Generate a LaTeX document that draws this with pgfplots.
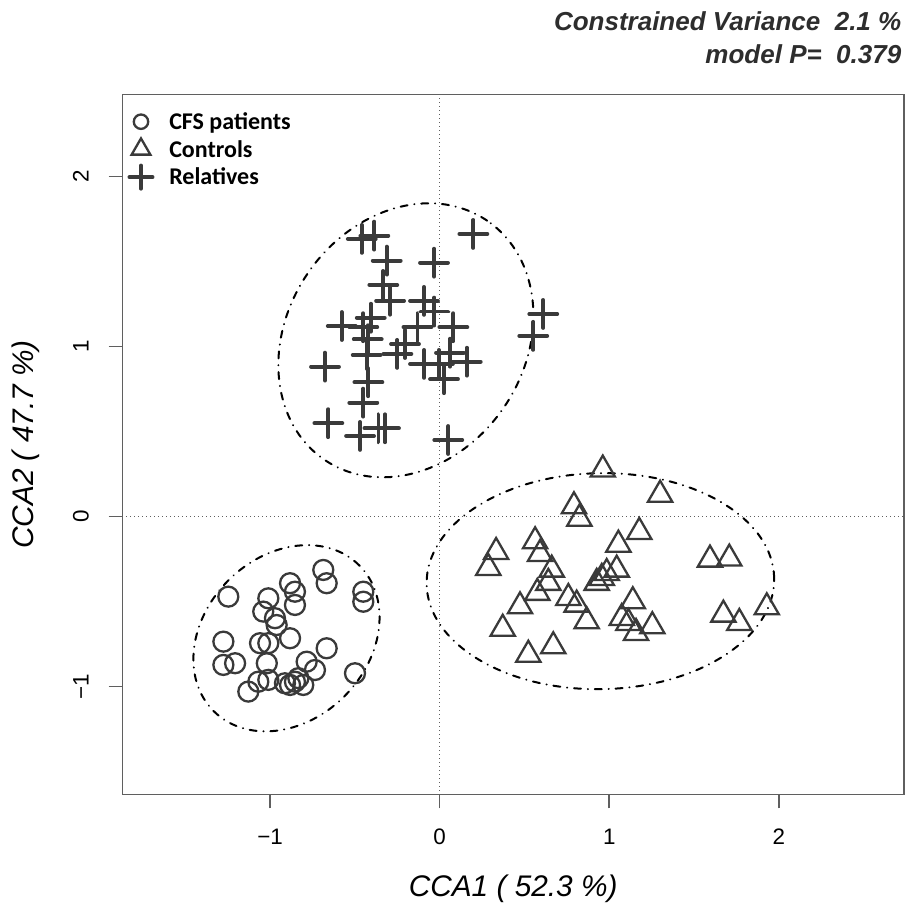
\documentclass[border=0pt]{standalone}
\usepackage{fontspec}
\setmainfont{Liberation Sans}
\newfontfamily\legfont{Carlito}
\usepackage{pgfplots}
\pgfplotsset{compat=1.18}
\definecolor{mk}{RGB}{58,58,58}
\definecolor{ax}{RGB}{95,95,95}
\definecolor{tt}{RGB}{45,45,45}
\tikzset{ell/.style={black, line width=1pt, line cap=round, dash pattern=on 3.5pt off 3.4pt on 0.1pt off 3.4pt}}
\pgfplotsset{myleg/.style={legend image code/.code={\path[draw=none,fill=none] (0pt,-3pt) rectangle (18.7pt,9.5pt); \draw[##1, mark size=#1] plot coordinates {(9.35pt,3.9pt)};}}}
\begin{document}
\begin{tikzpicture}
\begin{axis}[
  scale only axis, width=390.85pt, height=350.2pt,
  xmin=-1.871, xmax=2.738, ymin=-1.638, ymax=2.485,
  axis line style={ax, line width=0.75pt},
  tick pos=left,
  tick align=outside,
  major tick length=6.8pt,
  every tick/.style={ax, line width=0.75pt},
  xtick={-1,0,1,2}, xticklabels={−1,0,1,2},
  ytick={-1,0,1,2}, yticklabels={−1,0,1,2},
  ticklabel style={font=\fontsize{11.2}{13}\selectfont, black, inner sep=0pt},
  xticklabel style={anchor=base, yshift=-18pt},
  yticklabel style={rotate=90, anchor=base, yshift=10pt},
  xlabel={\itshape CCA1 ( 52.3 \%)},
  ylabel={\itshape CCA2 ( 47.7 \%)},
  label style={font=\fontsize{14.9}{17}\selectfont, inner sep=0pt},
  xlabel style={at={([yshift=-51pt]rel axis cs:0.5,0)}, anchor=base},
  ylabel style={at={([xshift=-44.5pt]rel axis cs:0,0.5)}, rotate=0, anchor=base},
  clip=false,
  legend cell align=left,
  legend style={at={([yshift=-8.1pt]rel axis cs:0,1)}, anchor=north west, draw=none, fill=none,
    inner sep=0pt, outer sep=0pt, row sep=1.25pt, column sep=4.8pt,
    font=\legfont\bfseries\fontsize{12}{14}\selectfont,
    nodes={inner sep=0pt, anchor=base west}},
]
\addplot[only marks, mark=o, mark size=5pt, mk, line width=1.15pt, myleg=3.6pt]
coordinates {
(-1.246,-0.472) (-0.686,-0.315) (-0.666,-0.393) (-0.882,-0.393) (-0.853,-0.443)
(-0.853,-0.521) (-1.010,-0.482) (-1.040,-0.560) (-0.971,-0.599) (-0.961,-0.639)
(-0.450,-0.443) (-0.450,-0.502) (-0.882,-0.717) (-1.275,-0.737) (-1.059,-0.746)
(-1.010,-0.746) (-0.666,-0.776) (-1.275,-0.874) (-1.206,-0.864) (-1.019,-0.864)
(-0.784,-0.855) (-0.735,-0.904) (-0.499,-0.923) (-1.128,-1.031) (-1.069,-0.973)
(-1.010,-0.962) (-0.912,-0.982) (-0.882,-0.992) (-0.853,-0.973) (-0.804,-0.992)
(-0.833,-0.952)
};
\addlegendentry{CFS patients}
\addplot[only marks, mark=triangle, mark size=7pt, mk, line width=1.15pt, myleg=5.4pt]
coordinates {
(0.962,0.276) (1.300,0.128) (0.792,0.060) (0.824,-0.013) (1.177,-0.091)
(1.054,-0.166) (0.563,-0.146) (0.333,-0.209) (0.287,-0.303) (0.592,-0.221)
(0.661,-0.313) (0.641,-0.391) (0.576,-0.450) (0.474,-0.529) (0.759,-0.480)
(0.808,-0.519) (0.867,-0.617) (0.372,-0.661) (0.523,-0.814) (0.670,-0.764)
(1.044,-0.313) (0.985,-0.333) (0.956,-0.362) (0.926,-0.391) (1.139,-0.499)
(1.074,-0.598) (1.113,-0.627) (1.158,-0.686) (1.254,-0.646) (1.594,-0.254)
(1.708,-0.248) (1.673,-0.578) (1.767,-0.627) (1.929,-0.535)
};
\addlegendentry{Controls}
\addplot[only marks, mark=+, mark size=7pt, mk, line width=1.9pt, line cap=round, myleg=5.8pt]
coordinates {
(-0.459,1.634) (-0.385,1.653) (0.199,1.663) (-0.312,1.506) (-0.033,1.494)
(-0.332,1.363) (-0.292,1.270) (-0.092,1.269) (-0.031,1.206) (0.081,1.114)
(-0.577,1.121) (-0.406,1.170) (-0.450,1.114) (-0.424,1.043) (-0.430,0.951)
(-0.420,0.790) (-0.131,1.114) (-0.204,1.015) (-0.249,0.957) (-0.092,0.898)
(-0.004,0.898) (0.026,0.808) (0.061,0.964) (0.160,0.911) (-0.676,0.882)
(0.611,1.192) (0.552,1.063) (-0.450,0.670) (-0.656,0.549) (-0.361,0.519)
(-0.322,0.519) (-0.469,0.474) (0.051,0.450)
};
\addlegendentry{Relatives}
\draw[ax, line width=0.5pt, dash pattern=on 0.5pt off 1.5pt] (axis cs:0,-1.638) -- (axis cs:0,2.485);
\draw[ax, line width=0.5pt, dash pattern=on 0.5pt off 1.5pt] (axis cs:-1.871,0) -- (axis cs:2.738,0);
\draw[ell, rotate around={45:(axis cs:-0.903,-0.717)}] (axis cs:-0.903,-0.717) ellipse [x radius=51.5pt, y radius=41pt];
\draw[ell, rotate around={55.8:(axis cs:-0.199,1.037)}] (axis cs:-0.199,1.037) ellipse [x radius=72.3pt, y radius=59.4pt];
\draw[ell, rotate around={1:(axis cs:0.948,-0.381)}] (axis cs:0.948,-0.381) ellipse [x radius=86.9pt, y radius=54pt];
\coordinate (bl) at (rel axis cs:0,0);
\coordinate (tr) at (rel axis cs:1,1);
\end{axis}
\pgfresetboundingbox
\path[use as bounding box] ([shift={(-61.15pt,-56.15pt)}]bl) rectangle ([shift={(2.5pt,47.15pt)}]tr);
\node[anchor=base east, inner sep=0pt, tt, font=\bfseries\itshape\fontsize{13}{15}\selectfont] at ([shift={(-1.15pt,32.15pt)}]tr) {Constrained Variance\ \ 2.1 \%};
\node[anchor=base east, inner sep=0pt, tt, font=\bfseries\itshape\fontsize{13}{15}\selectfont] at ([shift={(-1.15pt,15.5pt)}]tr) {model P=\ \ 0.379};
\end{tikzpicture}
\end{document}
